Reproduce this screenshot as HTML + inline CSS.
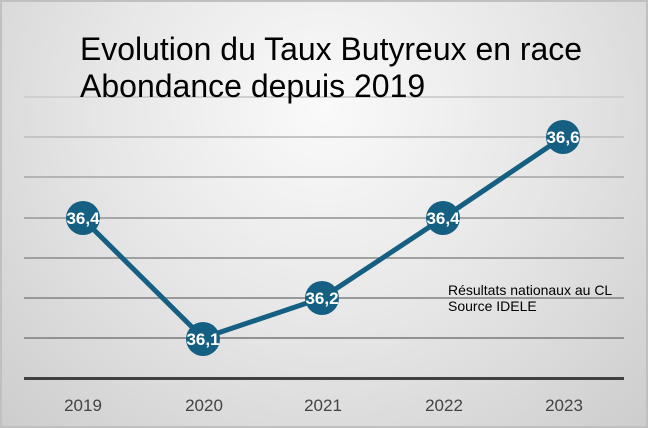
<!DOCTYPE html>
<html><head><style>
body{margin:0;width:648px;height:428px;overflow:hidden}
.c{position:absolute;left:0;top:0;width:644px;height:424px;border:2px solid #c0c0c0;background:radial-gradient(ellipse at 50% 25%,#fafafa 0%,#e6e6e6 50%,#cdcdcd 100%)}
</style></head><body>
<div class="c"></div>
<svg width="648" height="428" style="position:absolute;left:0;top:0" font-family="Liberation Sans, sans-serif">
<g stroke-width="2">
<line x1="24" x2="624" y1="97" y2="97" stroke="#d0d0d0"/>
<line x1="24" x2="624" y1="137" y2="137" stroke="#c4c4c4"/>
<line x1="24" x2="624" y1="177" y2="177" stroke="#b4b4b4"/>
<line x1="24" x2="624" y1="218" y2="218" stroke="#a8a8a8"/>
<line x1="24" x2="624" y1="258" y2="258" stroke="#a0a0a0"/>
<line x1="24" x2="624" y1="298" y2="298" stroke="#999"/>
<line x1="24" x2="624" y1="338" y2="338" stroke="#929292"/>
</g>
<line x1="24" x2="624" y1="378.5" y2="378.5" stroke="#404040" stroke-width="3"/>
<text x="80" y="60" font-size="32" fill="#000" textLength="502" lengthAdjust="spacingAndGlyphs">Evolution du Taux Butyreux en race</text>
<text x="80" y="97" font-size="32" fill="#000">Abondance depuis 2019</text>
<polyline points="82,218 203,338 322,298 443,218 563,137" fill="none" stroke="#155f82" stroke-width="5" stroke-linejoin="round"/>
<g fill="#155f82">
<circle cx="83" cy="218" r="17"/><circle cx="203" cy="339" r="17"/><circle cx="322" cy="298" r="17"/><circle cx="443" cy="218" r="17"/><circle cx="563" cy="137" r="17"/>
</g>
<g fill="#fff" font-size="17" font-weight="bold" text-anchor="middle">
<text x="83" y="224">36,4</text><text x="203" y="345">36,1</text><text x="322" y="304">36,2</text><text x="443" y="224">36,4</text><text x="563" y="143">36,6</text>
</g>
<g fill="#444" font-size="17" text-anchor="middle">
<text x="83" y="411">2019</text><text x="204" y="411">2020</text><text x="323" y="411">2021</text><text x="444" y="411">2022</text><text x="564" y="411">2023</text>
</g>
<text x="448" y="295" font-size="14" fill="#000">Résultats nationaux au CL</text>
<text x="448" y="311" font-size="14" fill="#000">Source IDELE</text>
</svg>
</body></html>
